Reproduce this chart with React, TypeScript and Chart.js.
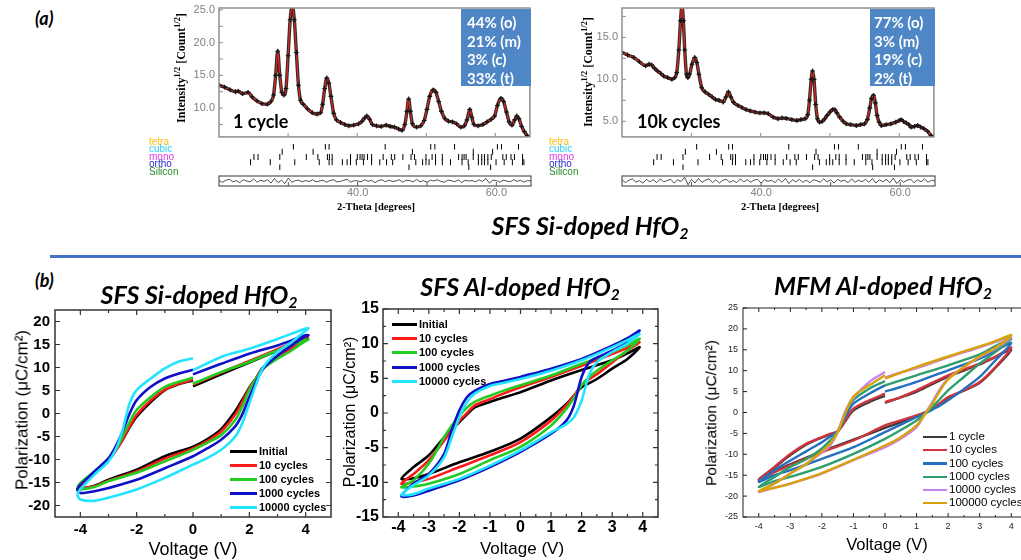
import React, { useEffect, useRef } from "react";
import { Chart, registerables } from "chart.js";

Chart.register(...registerables);

type Pt = [number, number];

/* ======================= (a) XRD data ======================= */
const TWO_THETA_MIN = 20;
const TWO_THETA_MAX = 65;

const XRD_1CYCLE: Pt[] = [
  [20.0, 13.5], [20.8, 13.2], [21.6, 12.8], [22.4, 12.5], [22.8, 12.6], [23.4, 12.2], [24.2, 12.4],
  [24.8, 11.7], [25.5, 11.1], [26.2, 10.7], [27.0, 10.6], [27.5, 11.0], [27.9, 12.0], [28.2, 15.0],
  [28.5, 18.7], [28.8, 15.0], [29.1, 12.4], [29.4, 12.0], [29.7, 13.0], [30.0, 18.0], [30.3, 23.5],
  [30.6, 25.6], [30.9, 23.5], [31.2, 18.5], [31.5, 13.5], [31.8, 11.2], [32.2, 10.6], [32.8, 9.9],
  [33.5, 9.3], [34.2, 9.1], [34.7, 9.3], [35.0, 10.6], [35.3, 13.0], [35.6, 14.6], [35.9, 13.8],
  [36.2, 11.8], [36.6, 9.2], [37.0, 8.2], [37.6, 7.8], [38.2, 7.5], [38.8, 7.3], [39.5, 7.4],
  [40.2, 7.6], [40.7, 8.0], [41.1, 8.5], [41.4, 8.8], [41.8, 8.3], [42.2, 7.5], [42.8, 7.3],
  [43.5, 7.2], [44.2, 7.4], [44.8, 7.2], [45.4, 7.1], [46.0, 6.8], [46.5, 6.6], [46.9, 7.5],
  [47.2, 9.5], [47.45, 11.4], [47.7, 9.5], [48.0, 7.6], [48.6, 7.1], [49.2, 7.3], [49.7, 8.1],
  [50.1, 9.8], [50.5, 11.8], [51.0, 12.8], [51.4, 12.4], [51.8, 11.0], [52.2, 9.5], [52.7, 8.4],
  [53.2, 8.0], [53.8, 7.9], [54.4, 7.6], [55.0, 7.1], [55.5, 7.3], [55.9, 8.2], [56.3, 9.8],
  [56.6, 8.6], [56.9, 7.5], [57.5, 7.3], [58.2, 7.5], [58.8, 7.9], [59.4, 8.3], [59.9, 8.8],
  [60.3, 10.4], [60.8, 11.5], [61.2, 11.0], [61.6, 9.4], [62.0, 7.9], [62.4, 7.4], [62.8, 8.2],
  [63.1, 8.8], [63.4, 8.4], [63.8, 7.2], [64.2, 6.4], [64.6, 5.8], [65.0, 5.5],
];

const XRD_10K: Pt[] = [
  [20.0, 13.2], [20.8, 12.9], [21.7, 12.6], [22.5, 12.1], [23.4, 11.6], [23.9, 11.8], [24.3, 11.7],
  [24.7, 11.3], [25.1, 11.0], [25.6, 10.7], [26.0, 10.4], [26.6, 10.2], [27.2, 10.0], [27.6, 10.2],
  [27.9, 10.8], [28.2, 13.5], [28.45, 17.0], [28.65, 18.8], [28.85, 17.0], [29.05, 13.5], [29.3, 10.6],
  [29.5, 10.2], [29.75, 10.6], [30.1, 11.8], [30.5, 12.6], [30.8, 12.0], [31.1, 10.6], [31.5, 9.0],
  [32.0, 8.5], [32.5, 8.2], [33.0, 7.9], [33.5, 7.6], [34.0, 7.5], [34.6, 7.3], [35.0, 7.9],
  [35.35, 8.5], [35.7, 7.9], [36.1, 7.25], [36.7, 6.9], [37.3, 6.65], [37.9, 6.4], [38.5, 6.25],
  [39.2, 6.1], [39.9, 6.0], [40.5, 6.0], [41.1, 5.9], [41.8, 5.5], [42.5, 5.3], [43.1, 5.4],
  [43.7, 5.35], [44.5, 5.2], [45.2, 5.1], [45.8, 5.2], [46.4, 5.3], [46.8, 5.8], [47.05, 7.5],
  [47.3, 10.0], [47.5, 11.0], [47.7, 10.0], [47.95, 7.0], [48.2, 5.3], [48.5, 4.9], [48.9, 5.0],
  [49.25, 5.3], [49.6, 5.7], [50.0, 6.1], [50.4, 6.4], [50.7, 6.4], [51.0, 6.0], [51.4, 5.5],
  [51.9, 5.0], [52.35, 4.7], [53.0, 4.6], [53.8, 4.5], [54.4, 4.6], [55.0, 4.7], [55.4, 5.2],
  [55.75, 6.6], [56.0, 7.7], [56.3, 8.1], [56.55, 7.2], [56.8, 5.7], [57.1, 4.9], [57.4, 4.5],
  [58.1, 4.6], [58.8, 4.7], [59.5, 4.9], [60.0, 5.1], [60.3, 5.2], [60.6, 5.0], [61.0, 4.8],
  [61.4, 4.6], [61.7, 4.3], [62.2, 4.4], [62.65, 4.5], [63.1, 4.3], [63.6, 4.1], [64.1, 3.8],
  [64.6, 3.3], [65.0, 3.1],
];

const XRD_1CYCLE_RESID = [
  0.1, -0.3, 0.2, 0.4, -0.2, 0.1, -0.4, 0.3, 0.0, -0.2,
  0.5, -0.3, 0.2, -0.1, 0.3, -0.5, 0.6, -0.4, 0.2, -0.6,
  0.7, -0.3, 0.1, 0.2, -0.2, 0.1, -0.1, 0.3, -0.2, 0.0,
  0.2, -0.3, 0.1, 0.3, -0.2, -0.1, 0.2, 0.4, -0.3, 0.1,
  0.0, -0.2, 0.3, -0.1, 0.2, -0.4, 0.1, 0.3, -0.2, 0.2,
  -0.1, 0.0, 0.3, -0.3, 0.2, 0.1, -0.2, 0.4, -0.2, 0.1,
  -0.3, 0.2, 0.0, 0.3, -0.1, -0.3, 0.2, 0.1, -0.2, 0.3,
  -0.4, 0.2, 0.0, 0.1, -0.2, 0.3, -0.1, 0.6, -0.5, 0.2,
  0.1, -0.3, 0.2, 0.0, -0.2, 0.3, -0.1, 0.2, -0.3, 0.1, 0.0,
];
const XRD_10K_RESID = [
  0.3, -0.4, 0.2, 0.5, -0.3, 0.1, -0.5, 0.4, -0.2, 0.3,
  -0.4, 0.5, -0.2, 0.1, 0.4, -0.5, 0.3, -0.1, 0.9, -0.9,
  0.4, -0.5, 0.6, -0.3, 0.2, 0.5, -0.4, 0.3, -0.5, 0.2,
  0.4, -0.3, 0.1, -0.4, 0.5, -0.2, 0.3, -0.3, 0.2, 0.4,
  -0.5, 0.3, -0.1, 0.2, -0.4, 0.5, -0.3, 0.6, -0.6, 0.3,
  -0.2, 0.4, -0.3, 0.2, -0.4, 0.3, 0.1, -0.3, 0.5, -0.2,
  0.3, -0.5, 0.4, -0.1, 0.2, -0.4, 0.5, -0.3, 0.2, -0.2,
  0.4, -0.3, 0.6, -0.5, 0.3, -0.2, 0.4, -0.4, 0.7, -0.6,
  0.3, -0.3, 0.2, 0.4, -0.4, 0.3, -0.2, 0.5, -0.3, 0.2, 0.0,
];

const XRD_X_LABELS = [40, 60];
const XRD_X_MARKS = [30, 40, 50, 60];
const XRD_1CYCLE_Y_LABELS = [10, 15, 20, 25];
const XRD_1CYCLE_Y_MARKS = [7.5, 10, 12.5, 15, 17.5, 20, 22.5, 25];
const XRD_10K_Y_LABELS = [5, 10, 15];
const XRD_10K_Y_MARKS = [5, 7.5, 10, 12.5, 15, 17.5];

const PHASE_NAMES = ["tetra", "cubic", "mono", "ortho", "Silicon"];
const PHASE_COLORS = ["#FFC20E", "#2ED0F0", "#E23CE2", "#2B2BD8", "#2D8A2D"];
const BRAGG_TETRA = [30.5, 35.2, 35.75, 44.0, 50.7, 51.3, 54.2, 60.5, 61.1, 63.6];
const BRAGG_CUBIC = [28.85, 33.4, 48.0, 56.95, 59.8];
const BRAGG_MONO = [
  24.7, 25.3, 28.5, 32.4, 34.1, 35.5, 35.8, 36.2, 38.9, 39.9, 40.3, 40.6, 40.9, 41.4, 42.0, 43.7,
  44.9, 45.4, 46.6, 47.8, 48.3, 50.0, 50.9, 51.4, 52.4, 54.8, 55.3, 55.6, 55.9, 56.95, 57.7, 58.2,
  58.6, 59.1, 59.6, 61.3, 61.8, 62.5, 63.0, 64.2,
];
const BRAGG_ORTHO = [
  24.2, 27.1, 30.7, 34.3, 35.75, 36.2, 37.7, 38.4, 38.9, 39.75, 40.8, 42.0, 43.2, 44.2, 45.1, 48.5,
  49.5, 50.0, 50.45, 51.4, 52.4, 53.6, 55.3, 56.2, 57.7, 58.2, 58.6, 59.1, 60.3, 61.5, 62.7, 64.2, 64.4,
];
const BRAGG_SILICON = [28.5, 47.5, 56.3, 59.5];
const BRAGG_ROWS = [BRAGG_TETRA, BRAGG_CUBIC, BRAGG_MONO, BRAGG_ORTHO, BRAGG_SILICON];

const FRACTIONS_1CYCLE = ["44% (o)", "21% (m)", "3% (c)", "33% (t)"];
const FRACTIONS_10K = ["77% (o)", "3% (m)", "19% (c)", "2% (t)"];

/* ======================= (b) P–V loops ======================= */
// Voltage grids: upper branch from 0 down to -Vmax, lower branch -V..+Vmax, upper branch +V..0
const SI_V_UPL = [0, -0.5, -1, -1.5, -2, -2.25, -2.5, -2.75, -3, -3.5, -4, -4.1];
const SI_V_LO = [-4, -3.5, -3, -2, -1, 0, 0.5, 1, 1.5, 1.75, 2, 2.25, 2.5, 3, 3.5, 4, 4.1];
const SI_V_UPR = [4, 3, 2, 1, 0];
const SI_NAMES = ["Initial", "10 cycles", "100 cycles", "1000 cycles", "10000 cycles"];
const SI_COLORS = ["#000000", "#FF1A1A", "#22CC22", "#1010C8", "#22E4FF"];
const SI_INITIAL_UPL = [7.2, 6.4, 5.1, 2.5, -0.7, -3.0, -5.7, -8.0, -10.0, -12.9, -15.8, -16.6];
const SI_INITIAL_LO = [-16.4, -15.7, -14.4, -12.2, -9.3, -7.2, -5.6, -3.4, 0.5, 3.0, 5.6, 7.8, 10.1, 12.3, 14.5, 16.3, 16.6];
const SI_INITIAL_UPR = [16.3, 13.7, 11.1, 8.5, 5.9];
const SI_10_UPL = [7.4, 6.5, 5.2, 2.9, -0.3, -2.8, -5.7, -8.2, -10.0, -12.8, -15.7, -16.8];
const SI_10_LO = [-16.4, -15.8, -14.6, -12.6, -9.8, -7.6, -6.0, -3.9, -0.2, 2.5, 5.4, 7.8, 10.0, 12.2, 14.2, 16.6, 17.0];
const SI_10_UPR = [16.7, 14.0, 11.4, 8.9, 6.3];
const SI_100_UPL = [7.8, 6.9, 5.8, 3.6, 0.8, -1.8, -5.0, -7.9, -10.0, -12.6, -15.1, -16.2];
const SI_100_LO = [-16.5, -16.0, -14.7, -12.9, -10.4, -7.9, -6.4, -4.7, -1.4, 1.5, 5.1, 7.7, 9.8, 11.9, 13.7, 15.8, 16.1];
const SI_100_UPR = [16.0, 13.7, 11.2, 9.0, 6.5];
const SI_1000_UPL = [9.5, 8.7, 7.6, 5.8, 2.9, 0.0, -3.9, -7.2, -9.7, -12.6, -15.5, -16.4];
const SI_1000_LO = [-17.3, -16.9, -16.2, -14.4, -11.9, -9.3, -7.6, -5.7, -2.8, -0.2, 3.6, 7.0, 9.8, 12.6, 14.8, 16.8, 17.0];
const SI_1000_UPR = [17.0, 14.8, 13.0, 10.8, 8.5];
const SI_10000_UPL = [12.0, 11.3, 9.8, 7.6, 5.1, 2.2, -3.6, -7.9, -10.4, -13.3, -16.5, -17.6];
const SI_10000_LO = [-18.7, -19.0, -18.3, -16.5, -14.0, -11.1, -9.7, -7.9, -5.0, -2.1, 2.2, 6.5, 10.1, 13.4, 15.5, 18.0, 18.5];
const SI_10000_UPR = [18.5, 16.2, 14.1, 12.3, 9.4];

const AL_V_UPL = [0, -0.5, -1, -1.5, -1.75, -2, -2.25, -2.5, -3, -3.5, -3.9];
const AL_V_LO = [-3.5, -3, -2, -1, 0, 1, 1.5, 1.75, 2, 2.25, 2.5, 3, 3.5, 3.9];
const AL_V_UPR = [3.5, 3, 2, 1, 0];
const AL_NAMES = ["Initial", "10 cycles", "100 cycles", "1000 cycles", "10000 cycles"];
const AL_COLORS = ["#000000", "#FF1A1A", "#22CC22", "#1010C8", "#22E4FF"];
const AL_INITIAL_UPL = [3.0, 2.3, 1.6, 0.8, -0.2, -1.3, -2.4, -3.5, -6.1, -7.8, -9.5];
const AL_INITIAL_LO = [-9.4, -8.8, -7.1, -5.6, -3.7, -0.6, 1.3, 2.5, 3.7, 4.3, 4.9, 6.4, 7.8, 9.5];
const AL_INITIAL_UPR = [8.6, 7.6, 6.2, 4.7, 3.0];
const AL_10_UPL = [3.7, 2.9, 2.0, 1.1, 0.0, -1.1, -2.5, -4.0, -6.8, -8.8, -10.2];
const AL_10_LO = [-10.0, -9.5, -7.8, -6.1, -4.2, -1.1, 1.1, 2.5, 4.0, 4.9, 5.6, 7.3, 9.0, 10.2];
const AL_10_UPR = [9.4, 8.5, 6.8, 5.2, 3.7];
const AL_100_UPL = [4.0, 3.3, 2.5, 1.6, 0.8, -0.4, -1.8, -3.5, -7.3, -9.7, -10.7];
const AL_100_LO = [-10.6, -10.2, -8.8, -6.8, -4.9, -1.8, 0.6, 2.2, 4.0, 5.2, 6.1, 7.6, 9.0, 10.7];
const AL_100_UPR = [9.8, 8.8, 7.1, 5.4, 4.0];
const AL_1000_UPL = [5.2, 4.7, 4.2, 3.2, 2.3, 0.4, -2.5, -5.9, -8.8, -10.2, -12.0];
const AL_1000_LO = [-11.9, -11.2, -9.7, -7.8, -5.6, -3.0, -1.1, 1.1, 5.2, 7.3, 8.0, 9.0, 10.2, 11.9];
const AL_1000_UPR = [10.8, 9.7, 7.8, 6.4, 5.2];
const AL_10000_UPL = [4.9, 4.4, 3.9, 2.8, 1.6, -0.6, -3.5, -6.4, -9.0, -10.4, -11.8];
const AL_10000_LO = [-11.7, -10.9, -9.5, -7.6, -5.4, -2.8, -1.6, -0.6, 1.8, 5.6, 7.3, 8.8, 10.0, 11.4];
const AL_10000_UPR = [10.5, 9.5, 7.6, 6.1, 4.9];

const MFM_V_UPL = [0, -0.5, -1, -1.25, -1.5, -1.75, -2, -2.5, -3, -3.5, -4];
const MFM_V_LO = [-3.5, -3, -2, -1, 0, 0.5, 1, 1.25, 1.5, 1.75, 2, 2.5, 3, 3.5, 4];
const MFM_V_UPR = [3.5, 3, 2, 1, 0.5, 0];
const MFM_NAMES = ["1 cycle", "10 cycles", "100 cycles", "1000 cycles", "10000 cycles", "100000 cycles"];
const MFM_COLORS = ["#3A3A3A", "#D0343C", "#2470C0", "#2E9E6C", "#C684F0", "#D9A20A"];
const MFM_1_UPL = [4.0, 2.5, 0.5, -2.0, -4.5, -5.3, -6.0, -7.7, -10.2, -13.2, -16.0];
const MFM_1_LO = [-14.0, -12.4, -9.3, -6.5, -3.7, -2.3, -0.8, 0.0, 0.8, 2.0, 3.5, 5.2, 7.1, 10.7, 15.0];
const MFM_1_UPR = [13.3, 11.5, 8.6, 5.0, 3.6, 2.3];
const MFM_10_UPL = [4.5, 2.9, 0.9, -1.8, -4.5, -5.1, -5.9, -7.5, -9.9, -13.0, -16.2];
const MFM_10_LO = [-14.3, -12.6, -9.5, -6.7, -3.1, -1.9, -0.7, -0.1, 0.9, 2.3, 3.7, 5.3, 7.3, 10.9, 15.5];
const MFM_10_UPR = [13.3, 11.7, 8.9, 5.3, 3.7, 2.5];
const MFM_100_UPL = [6.5, 4.5, 2.1, -1.0, -4.5, -5.8, -7.1, -9.3, -11.5, -13.8, -16.6];
const MFM_100_LO = [-15.0, -13.8, -11.1, -8.3, -4.7, -2.9, -1.1, -0.3, 0.7, 1.7, 2.9, 5.6, 8.5, 12.5, 16.6];
const MFM_100_UPR = [14.8, 12.9, 10.1, 7.3, 6.1, 5.0];
const MFM_1000_UPL = [7.5, 5.7, 3.0, 0.0, -4.5, -6.8, -8.6, -11.2, -13.0, -15.4, -17.8];
const MFM_1000_LO = [-16.4, -15.4, -13.0, -9.9, -6.3, -4.2, -1.9, -0.4, 1.3, 3.3, 5.3, 8.5, 11.7, 14.5, 17.6];
const MFM_1000_UPR = [15.9, 13.9, 11.3, 8.9, 7.7, 6.5];
const MFM_10000_UPL = [9.7, 7.3, 3.5, 0.5, -4.7, -8.0, -9.6, -12.3, -14.6, -17.0, -19.0];
const MFM_10000_LO = [-18.0, -17.0, -14.6, -11.4, -8.3, -6.3, -3.5, -0.5, 2.5, 5.7, 8.1, 10.9, 13.3, 15.3, 18.0];
const MFM_10000_UPR = [16.9, 15.6, 13.2, 10.6, 9.6, 8.4];
const MFM_100000_UPL = [8.9, 6.5, 3.8, 0.0, -4.7, -7.6, -9.3, -12.3, -14.6, -17.0, -18.8];
const MFM_100000_LO = [-18.0, -17.0, -14.5, -11.3, -7.9, -5.9, -3.1, -0.6, 2.1, 5.3, 7.9, 10.9, 13.4, 15.5, 18.5];
const MFM_100000_UPR = [17.1, 15.8, 13.4, 10.9, 9.5, 8.1];

const SI_X_LABELS = [-4, -2, 0, 2, 4];
const SI_X_MINOR = [-3, -1, 1, 3];
const SI_Y_LABELS = [-20, -15, -10, -5, 0, 5, 10, 15, 20];
const AL_X_LABELS = [-4, -3, -2, -1, 0, 1, 2, 3, 4];
const AL_X_MINOR = [-3.5, -2.5, -1.5, -0.5, 0.5, 1.5, 2.5, 3.5];
const AL_Y_LABELS = [-15, -10, -5, 0, 5, 10, 15];
const AL_Y_MINOR = [-12.5, -7.5, -2.5, 2.5, 7.5, 12.5];
const MFM_X_LABELS = [-4, -3, -2, -1, 0, 1, 2, 3, 4];
const MFM_X_MINOR = [-3.5, -2.5, -1.5, -0.5, 0.5, 1.5, 2.5, 3.5];
const MFM_Y_LABELS = [-25, -20, -15, -10, -5, 0, 5, 10, 15, 20, 25];

/* ======================= helpers ======================= */
const ARIAL = "'Liberation Sans', Arial, sans-serif";
const SERIF = "'Liberation Serif', 'Times New Roman', serif";
const LATO = "Lato, 'Open Sans', sans-serif";

type Loop = { upl: number[]; lo: number[]; upr: number[] };
type Grid = { upl: number[]; lo: number[]; upr: number[] };

function loopPoints(g: Grid, s: Loop) {
  return [
    ...g.upl.map((v, i) => ({ x: v, y: s.upl[i] })),
    ...g.lo.map((v, i) => ({ x: v, y: s.lo[i] })),
    ...g.upr.map((v, i) => ({ x: v, y: s.upr[i] })),
  ];
}

type FrameSpec = {
  color: string;
  width: number;
  box?: boolean;
  mirror?: boolean;
  xMajor?: number[];
  xMinor?: number[];
  yMajor?: number[];
  yMinor?: number[];
  major: number;
  minor: number;
  tickWidth?: number;
  xLabels?: number[];
  yLabels?: number[];
  fmt?: (v: number) => string;
  font?: string;
  labelColor?: string;
  xOff?: number; // distance from plot bottom to label centre
  yOff?: number; // gap from plot left to label right edge
};

// Draws the frame, inward tick marks and tick labels, all positioned by the chart's own scales.
function makeFrame(f: FrameSpec) {
  return {
    id: "frame",
    afterDraw(chart: any) {
      const { ctx, chartArea: a } = chart;
      const xs = chart.scales.x;
      const ys = chart.scales.y;
      ctx.save();
      ctx.strokeStyle = f.color;
      ctx.lineWidth = f.tickWidth ?? 1;
      ctx.beginPath();
      const xt = (vals: number[] | undefined, len: number) =>
        (vals || []).forEach((v) => {
          const x = xs.getPixelForValue(v);
          ctx.moveTo(x, a.bottom);
          ctx.lineTo(x, a.bottom - len);
          if (f.mirror) {
            ctx.moveTo(x, a.top);
            ctx.lineTo(x, a.top + len);
          }
        });
      const yt = (vals: number[] | undefined, len: number) =>
        (vals || []).forEach((v) => {
          const y = ys.getPixelForValue(v);
          ctx.moveTo(a.left, y);
          ctx.lineTo(a.left + len, y);
          if (f.mirror) {
            ctx.moveTo(a.right, y);
            ctx.lineTo(a.right - len, y);
          }
        });
      xt(f.xMajor, f.major);
      xt(f.xMinor, f.minor);
      yt(f.yMajor, f.major);
      yt(f.yMinor, f.minor);
      ctx.stroke();
      if (f.box !== false) {
        ctx.lineWidth = f.width;
        ctx.strokeRect(a.left, a.top, a.right - a.left, a.bottom - a.top);
      }
      const fmt = f.fmt || ((v: number) => String(v));
      ctx.fillStyle = f.labelColor || "#000";
      ctx.font = f.font || "12px sans-serif";
      ctx.textBaseline = "middle";
      ctx.textAlign = "center";
      (f.xLabels || []).forEach((v) => {
        ctx.fillText(fmt(v), xs.getPixelForValue(v), a.bottom + (f.xOff ?? 10));
      });
      ctx.textAlign = "right";
      (f.yLabels || []).forEach((v) => {
        ctx.fillText(fmt(v), a.left - (f.yOff ?? 4), ys.getPixelForValue(v));
      });
      ctx.restore();
    },
  };
}

type Rect = [number, number, number, number]; // left, top, width, height of plot area
type Pad = [number, number, number, number]; // top, right, bottom, left

function buildConfig(
  pad: Pad,
  x: [number, number],
  y: [number, number],
  datasets: any[],
  plugins: any[],
  yReverse = false
) {
  const [pt, pr, pb, pl] = pad;
  return {
    type: "scatter",
    data: { datasets },
    options: {
      responsive: false,
      animation: false,
      events: [],
      layout: { padding: { top: pt, right: pr, bottom: pb, left: pl } },
      plugins: { legend: { display: false }, tooltip: { enabled: false }, title: { display: false } },
      scales: {
        x: { type: "linear", min: x[0], max: x[1], display: false },
        y: { type: "linear", min: y[0], max: y[1], display: false, reverse: yReverse },
      },
    },
    plugins,
  };
}

function ChartBox({ plot, pad, config }: { plot: Rect; pad: Pad; config: () => any }) {
  const ref = useRef<HTMLCanvasElement>(null);
  useEffect(() => {
    const chart = new Chart(ref.current as HTMLCanvasElement, config());
    return () => chart.destroy();
  }, []);
  const [L, T, W, H] = plot;
  const [pt, pr, pb, pl] = pad;
  const w = W + pl + pr;
  const h = H + pt + pb;
  return (
    <canvas
      ref={ref}
      width={w}
      height={h}
      style={{ position: "absolute", left: L - pl, top: T - pt, width: w, height: h }}
    />
  );
}

/* ---------- XRD chart configs ---------- */
const XRD_TICK_FONT = `11px ${ARIAL}`;
const XRD_GRAY = "#808080";

function xrdMain(data: Pt[], ymin: number, ymax: number, yLabels: number[], yMarks: number[], pad: Pad) {
  const pts = data.map(([x, y]) => ({ x, y }));
  const datasets = [
    { data: pts, showLine: false, pointStyle: "cross", pointRadius: 2.4, borderColor: "#141414", borderWidth: 1.1, order: 1 },
    { data: pts, showLine: true, borderColor: "#E3241B", borderWidth: 1.3, pointRadius: 0, cubicInterpolationMode: "monotone", order: 2 },
    { data: pts, showLine: true, borderColor: "rgba(20,20,20,0.9)", borderWidth: 3.4, pointRadius: 0, cubicInterpolationMode: "monotone", order: 3 },
  ];
  return () =>
    buildConfig(pad, [TWO_THETA_MIN, TWO_THETA_MAX], [ymin, ymax], datasets, [
      makeFrame({
        color: "#8e8e8e", width: 1.5, xMajor: XRD_X_MARKS, yMajor: yMarks, major: 4, minor: 2,
        yLabels, fmt: (v) => v.toFixed(1), font: XRD_TICK_FONT, labelColor: XRD_GRAY, yOff: 4,
      }),
    ]);
}

function xrdRows(pad: Pad) {
  const datasets = BRAGG_ROWS.map((row, i) => ({
    data: row.map((x) => ({ x, y: i })),
    showLine: false,
    pointStyle: "line",
    rotation: 90,
    pointRadius: 3,
    borderColor: "#000",
    borderWidth: 1,
  }));
  return () => buildConfig(pad, [TWO_THETA_MIN, TWO_THETA_MAX], [-0.5, 4.5], datasets, [], true);
}

function xrdResid(resid: number[], pad: Pad) {
  const step = (TWO_THETA_MAX - TWO_THETA_MIN) / (resid.length - 1);
  const pts = resid.map((r, i) => ({ x: TWO_THETA_MIN + i * step, y: r }));
  return () =>
    buildConfig(
      pad,
      [TWO_THETA_MIN, TWO_THETA_MAX],
      [-1.2, 1.2],
      [{ data: pts, showLine: true, borderColor: "#222", borderWidth: 0.8, pointRadius: 0 }],
      [
        makeFrame({
          color: "#555", width: 1.2, xMajor: XRD_X_MARKS, major: 4, minor: 2,
          xLabels: XRD_X_LABELS, fmt: (v) => v.toFixed(1), font: XRD_TICK_FONT, labelColor: XRD_GRAY, xOff: 7,
        }),
      ]
    );
}

/* ---------- P-V chart configs ---------- */
function loopChart(
  grid: Grid,
  loops: Loop[],
  colors: string[],
  pad: Pad,
  x: [number, number],
  y: [number, number],
  frame: FrameSpec,
  width: number
) {
  const n = loops.length;
  const datasets = loops.map((l, i) => ({
    data: loopPoints(grid, l),
    showLine: true,
    borderColor: colors[i],
    borderWidth: width,
    pointRadius: 0,
    tension: 0.3,
    order: n - i,
  }));
  return () => buildConfig(pad, x, y, datasets, [makeFrame(frame)]);
}

const SI_GRID: Grid = { upl: SI_V_UPL, lo: SI_V_LO, upr: SI_V_UPR };
const SI_LOOPS: Loop[] = [
  { upl: SI_INITIAL_UPL, lo: SI_INITIAL_LO, upr: SI_INITIAL_UPR },
  { upl: SI_10_UPL, lo: SI_10_LO, upr: SI_10_UPR },
  { upl: SI_100_UPL, lo: SI_100_LO, upr: SI_100_UPR },
  { upl: SI_1000_UPL, lo: SI_1000_LO, upr: SI_1000_UPR },
  { upl: SI_10000_UPL, lo: SI_10000_LO, upr: SI_10000_UPR },
];
const AL_GRID: Grid = { upl: AL_V_UPL, lo: AL_V_LO, upr: AL_V_UPR };
const AL_LOOPS: Loop[] = [
  { upl: AL_INITIAL_UPL, lo: AL_INITIAL_LO, upr: AL_INITIAL_UPR },
  { upl: AL_10_UPL, lo: AL_10_LO, upr: AL_10_UPR },
  { upl: AL_100_UPL, lo: AL_100_LO, upr: AL_100_UPR },
  { upl: AL_1000_UPL, lo: AL_1000_LO, upr: AL_1000_UPR },
  { upl: AL_10000_UPL, lo: AL_10000_LO, upr: AL_10000_UPR },
];
const MFM_GRID: Grid = { upl: MFM_V_UPL, lo: MFM_V_LO, upr: MFM_V_UPR };
const MFM_LOOPS: Loop[] = [
  { upl: MFM_1_UPL, lo: MFM_1_LO, upr: MFM_1_UPR },
  { upl: MFM_10_UPL, lo: MFM_10_LO, upr: MFM_10_UPR },
  { upl: MFM_100_UPL, lo: MFM_100_LO, upr: MFM_100_UPR },
  { upl: MFM_1000_UPL, lo: MFM_1000_LO, upr: MFM_1000_UPR },
  { upl: MFM_10000_UPL, lo: MFM_10000_LO, upr: MFM_10000_UPR },
  { upl: MFM_100000_UPL, lo: MFM_100000_LO, upr: MFM_100000_UPR },
];

/* ---------- layout ---------- */
const XRD1_MAIN: Rect = [219, 8, 312, 130];
const XRD1_ROWS: Rect = [219, 141, 312, 32];
const XRD1_RES: Rect = [219, 176, 312, 10];
const XRD2_MAIN: Rect = [622, 8, 313, 130];
const XRD2_ROWS: Rect = [622, 141, 313, 32];
const XRD2_RES: Rect = [622, 176, 313, 10];
const SI_PLOT: Rect = [55, 310, 276, 207];
const AL_PLOT: Rect = [383, 309, 275, 208];
const MFM_PLOT: Rect = [743, 308, 284, 209];

const PAD_MAIN: Pad = [8, 4, 4, 40];
const PAD_ROWS: Pad = [2, 2, 2, 2];
const PAD_RES: Pad = [3, 14, 16, 14];
const PAD_SI: Pad = [10, 10, 24, 50];
const PAD_AL: Pad = [10, 10, 24, 32];
const PAD_MFM: Pad = [10, 6, 20, 30];

const abs = (style: React.CSSProperties): React.CSSProperties => ({
  position: "absolute",
  whiteSpace: "nowrap",
  lineHeight: 1,
  ...style,
});

function Centered({ x, y, style, children, rotate }: { x: number; y: number; style?: React.CSSProperties; children: React.ReactNode; rotate?: boolean }) {
  return (
    <div
      style={abs({
        left: x,
        top: y,
        transform: rotate ? "translate(-50%,-50%) rotate(-90deg)" : "translate(-50%,-50%)",
        ...style,
      })}
    >
      {children}
    </div>
  );
}

function FractionBox({ left, width, lines, padLeft }: { left: number; width: number; lines: string[]; padLeft: number }) {
  return (
    <div
      style={{
        position: "absolute",
        left,
        top: 9,
        width,
        height: 77,
        background: "#4F86C6",
        color: "#fff",
        fontFamily: LATO,
        fontWeight: 700,
        fontSize: 15,
        lineHeight: "18.5px",
        paddingTop: 4,
        paddingLeft: padLeft,
        boxSizing: "border-box",
      }}
    >
      {lines.map((l) => (
        <div key={l} style={{ whiteSpace: "nowrap" }}>{l}</div>
      ))}
    </div>
  );
}

function PhaseLabels({ left }: { left: number }) {
  const ys = [141.7, 149.3, 156.7, 164, 171.7];
  return (
    <>
      {PHASE_NAMES.map((n, i) => (
        <div
          key={n}
          style={abs({ left, top: ys[i], transform: "translateY(-50%)", color: PHASE_COLORS[i], fontFamily: ARIAL, fontSize: 10 })}
        >
          {n}
        </div>
      ))}
    </>
  );
}

function LineLegend({
  x1, x2, ys, names, colors, font, thick,
}: { x1: number; x2: number; ys: number[]; names: string[]; colors: string[]; font: React.CSSProperties; thick: number }) {
  return (
    <>
      {names.map((n, i) => (
        <React.Fragment key={n}>
          <div style={{ position: "absolute", left: x1, top: ys[i] - thick / 2, width: x2 - x1, height: thick, background: colors[i] }} />
          <div style={abs({ left: x2 + 2, top: ys[i], transform: "translateY(-50%)", ...font })}>{n}</div>
        </React.Fragment>
      ))}
    </>
  );
}

const TITLE_STYLE: React.CSSProperties = { fontFamily: LATO, fontWeight: 700, fontStyle: "italic", fontSize: 25, color: "#000" };
const Hf = ({ pre }: { pre: string }) => (
  <span>
    {pre} HfO<sub style={{ fontSize: "0.62em", verticalAlign: "-0.3em", lineHeight: 0 }}>2</sub>
  </span>
);

export default function App() {
  const siFont = `bold 15px ${ARIAL}`;
  const alFont = `bold 16px ${ARIAL}`;
  const mfmFont = `9px ${ARIAL}`;
  return (
    <div style={{ position: "absolute", left: 0, top: 0, width: 1021, height: 560, overflow: "hidden", background: "#fff" }}>
      {/* (a) XRD panels */}
      <ChartBox plot={XRD1_MAIN} pad={PAD_MAIN} config={xrdMain(XRD_1CYCLE, 5.6, 25.3, XRD_1CYCLE_Y_LABELS, XRD_1CYCLE_Y_MARKS, PAD_MAIN)} />
      <ChartBox plot={XRD1_ROWS} pad={PAD_ROWS} config={xrdRows(PAD_ROWS)} />
      <ChartBox plot={XRD1_RES} pad={PAD_RES} config={xrdResid(XRD_1CYCLE_RESID, PAD_RES)} />
      <ChartBox plot={XRD2_MAIN} pad={PAD_MAIN} config={xrdMain(XRD_10K, 3.14, 18.5, XRD_10K_Y_LABELS, XRD_10K_Y_MARKS, PAD_MAIN)} />
      <ChartBox plot={XRD2_ROWS} pad={PAD_ROWS} config={xrdRows(PAD_ROWS)} />
      <ChartBox plot={XRD2_RES} pad={PAD_RES} config={xrdResid(XRD_10K_RESID, PAD_RES)} />

      {/* (b) P-V panels */}
      <ChartBox
        plot={SI_PLOT}
        pad={PAD_SI}
        config={loopChart(
          SI_GRID, SI_LOOPS, SI_COLORS, PAD_SI, [-4.9, 4.9], [-22.5, 22.5],
          {
            color: "#333", width: 1.5, mirror: true, xMajor: SI_X_LABELS, xMinor: SI_X_MINOR, yMajor: SI_Y_LABELS,
            major: 5, minor: 3, tickWidth: 1.2, xLabels: SI_X_LABELS, yLabels: SI_Y_LABELS, font: siFont, xOff: 13, yOff: 5,
          },
          2.6
        )}
      />
      <ChartBox
        plot={AL_PLOT}
        pad={PAD_AL}
        config={loopChart(
          AL_GRID, AL_LOOPS, AL_COLORS, PAD_AL, [-4.5, 4.5], [-15, 15],
          {
            color: "#333", width: 1.5, mirror: true, xMajor: AL_X_LABELS, xMinor: AL_X_MINOR, yMajor: AL_Y_LABELS, yMinor: AL_Y_MINOR,
            major: 5, minor: 3, tickWidth: 1.2, xLabels: AL_X_LABELS, yLabels: AL_Y_LABELS, font: alFont, xOff: 11, yOff: 4,
          },
          2.6
        )}
      />
      <ChartBox
        plot={MFM_PLOT}
        pad={PAD_MFM}
        config={loopChart(
          MFM_GRID, MFM_LOOPS, MFM_COLORS, PAD_MFM, [-4.5, 4.5], [-25, 25],
          {
            color: "#222", width: 1, mirror: true, xMajor: MFM_X_LABELS, xMinor: MFM_X_MINOR, yMajor: MFM_Y_LABELS,
            major: 4, minor: 2, tickWidth: 1, xLabels: MFM_X_LABELS, yLabels: MFM_Y_LABELS, font: mfmFont, labelColor: "#222", xOff: 10, yOff: 5,
          },
          2.4
        )}
      />

      {/* ---- (a) texts ---- */}
      <div style={abs({ left: 35, top: 18, transform: "translateY(-50%)", ...TITLE_STYLE, fontSize: 18 })}>(a)</div>
      <Centered x={180} y={68} rotate style={{ fontFamily: SERIF, fontWeight: 700, fontSize: 12 }}>
        <span>Intensity<sup style={{ fontSize: "0.7em" }}>1/2</sup> [Count<sup style={{ fontSize: "0.7em" }}>1/2</sup>]</span>
      </Centered>
      <Centered x={587} y={72} rotate style={{ fontFamily: SERIF, fontWeight: 700, fontSize: 12 }}>
        <span>Intensity<sup style={{ fontSize: "0.7em" }}>1/2</sup> [Count<sup style={{ fontSize: "0.7em" }}>1/2</sup>]</span>
      </Centered>
      <FractionBox left={461} width={70} lines={FRACTIONS_1CYCLE} padLeft={6} />
      <FractionBox left={870} width={65} lines={FRACTIONS_10K} padLeft={4} />
      <div style={abs({ left: 233, top: 112, fontFamily: LATO, fontWeight: 700, fontSize: 18 })}>1 cycle</div>
      <div style={abs({ left: 637, top: 112, fontFamily: LATO, fontWeight: 700, fontSize: 18 })}>10k cycles</div>
      <PhaseLabels left={149} />
      <PhaseLabels left={549} />
      <Centered x={376} y={207} style={{ fontFamily: SERIF, fontWeight: 700, fontSize: 10.5 }}>2-Theta [degrees]</Centered>
      <Centered x={780} y={207} style={{ fontFamily: SERIF, fontWeight: 700, fontSize: 10.5 }}>2-Theta [degrees]</Centered>
      <Centered x={590} y={225} style={TITLE_STYLE}><Hf pre="SFS Si-doped" /></Centered>

      <div style={{ position: "absolute", left: 50, top: 255, width: 971, height: 3, background: "#4472C4" }} />

      {/* ---- (b) texts ---- */}
      <div style={abs({ left: 35, top: 280, transform: "translateY(-50%)", ...TITLE_STYLE, fontSize: 18 })}>(b)</div>
      <Centered x={199} y={294} style={TITLE_STYLE}><Hf pre="SFS Si-doped" /></Centered>
      <Centered x={520} y={286} style={TITLE_STYLE}><Hf pre="SFS Al-doped" /></Centered>
      <Centered x={883} y={285} style={TITLE_STYLE}><Hf pre="MFM Al-doped" /></Centered>

      <Centered x={22} y={410} rotate style={{ fontFamily: ARIAL, fontSize: 17 }}>Polarization (μC/cm²)</Centered>
      <Centered x={193} y={549} style={{ fontFamily: ARIAL, fontSize: 18 }}>Voltage (V)</Centered>
      <Centered x={350} y={412} rotate style={{ fontFamily: ARIAL, fontSize: 16 }}>Polarization (μC/cm²)</Centered>
      <Centered x={522} y={548} style={{ fontFamily: ARIAL, fontSize: 17 }}>Voltage (V)</Centered>
      <Centered x={711} y={413} rotate style={{ fontFamily: ARIAL, fontSize: 15.5 }}>Polarization (μC/cm²)</Centered>
      <Centered x={887} y={544} style={{ fontFamily: ARIAL, fontSize: 16.5 }}>Voltage (V)</Centered>

      <LineLegend x1={230} x2={257} ys={[451, 465, 479, 493, 507]} names={SI_NAMES} colors={SI_COLORS} thick={3}
        font={{ fontFamily: ARIAL, fontWeight: 700, fontSize: 11 }} />
      <LineLegend x1={392} x2={417} ys={[324, 338, 352, 367, 381]} names={AL_NAMES} colors={AL_COLORS} thick={3}
        font={{ fontFamily: ARIAL, fontWeight: 700, fontSize: 11 }} />
      <LineLegend x1={923} x2={947} ys={[437, 450, 463.5, 477, 490, 503]} names={MFM_NAMES} colors={MFM_COLORS} thick={2.5}
        font={{ fontFamily: ARIAL, fontSize: 11.5 }} />
    </div>
  );
}
